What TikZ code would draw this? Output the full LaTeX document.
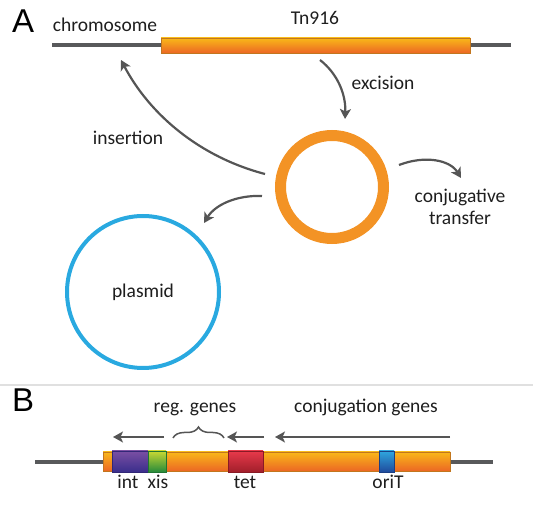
\documentclass[tikz,border=0pt]{standalone}
\usepackage{fontspec}
\setmainfont{Carlito}
\newfontfamily\panelfont{Liberation Sans}
\usetikzlibrary{arrows.meta,decorations.pathreplacing}

\definecolor{chromgray}{HTML}{58595B}
\definecolor{arrgray}{HTML}{555555}
\definecolor{txtgray}{HTML}{1E1E1E}
\definecolor{tnorange}{HTML}{F39325}
\definecolor{tntop}{HTML}{F9B819}
\definecolor{tnbottom}{HTML}{EC6724}
\definecolor{plasblue}{HTML}{29A9E0}
\definecolor{inttop}{HTML}{7A4FA3}
\definecolor{intbot}{HTML}{3A2E8C}
\definecolor{xistop}{HTML}{C8D833}
\definecolor{xisbot}{HTML}{268A3B}
\definecolor{tettop}{HTML}{E8394A}
\definecolor{tetbot}{HTML}{A11F2B}
\definecolor{oritop}{HTML}{2FA6DE}
\definecolor{oribot}{HTML}{1F4A9C}

\tikzset{
  lbl/.style={font=\fontsize{19.5}{23}\selectfont, text=txtgray, anchor=base, inner sep=0pt},
  panel/.style={font=\panelfont\fontsize{33}{36}\selectfont, text=black, anchor=base west, inner sep=0pt},
  arr/.style={draw=arrgray, line width=2.2pt, -{Stealth[length=10pt,width=11pt,inset=2.5pt]}},
  chrom/.style={draw=chromgray, line width=4pt},
  tnbar/.style={draw=tnorange!80!black, line width=0.4pt, top color=tntop, bottom color=tnbottom},
  gene/.style={draw=#1bot!85!black, line width=0.5pt, top color=#1top, bottom color=#1bot}
}

\begin{document}
\begin{tikzpicture}[x=1pt,y=-1pt]
    \useasboundingbox (0,0) rectangle (533,510);

    % Panel A: chromosome with Tn916
    \node[panel] (labA) at (12,33) {A};
    \draw[chrom] (52,45.5) -- (511,45.5);
    \draw[tnbar] (161,38) rectangle (470,53);
    \node[lbl] (chromtxt) at (105,32) {chromosome};
    \node[lbl] (tntxt) at (315,25) {Tn916};

    % Circular intermediate and plasmid
    \node[circle, draw=tnorange, line width=11pt, minimum size=103pt, inner sep=0pt] (ring) at (332,187) {};
    \node[circle, draw=plasblue, line width=4pt, minimum size=152pt, inner sep=0pt] (plasmid) at (143,292) {};
    \node[lbl] (plastxt) at (143,298) {plasmid};

    % Arrows
    \coordinate (exA) at (320,60);
    \coordinate (exB) at (345,119);
    \draw[arr] (exA) .. controls (338,74) and (346,95) .. (exB);
    \node[lbl] (extxt) at (383,90) {excision};

    \coordinate (inA) at (265,174);
    \coordinate (inB) at (121,60);
    \draw[arr] (inA) .. controls (200,157) and (150,115) .. (inB);
    \node[lbl] (intxt) at (128,145) {insertion};

    \coordinate (cjA) at (399,165);
    \coordinate (cjB) at (461,178);
    \draw[arr] (cjA) .. controls (425,155) and (450,160) .. (cjB);
    \node[lbl] (cjtxt) at (460,203) {conjugative};
    \node[lbl] (trtxt) at (460,225) {transfer};

    \coordinate (plA) at (262,196);
    \coordinate (plB) at (204,223);
    \draw[arr] (plA) .. controls (236,195) and (215,205) .. (plB);

    % Separator
    \draw[black!12, line width=1.5pt] (0,385) -- (533,385);

    % Panel B: gene map
    \node[panel] (labB) at (12,412) {B};
    \draw[chrom] (35,462) -- (493,462);
    \draw[tnbar] (103,452) rectangle (450,471);
    \draw[gene=int] (112,451) rectangle (148,472);
    \draw[gene=xis] (148,451) rectangle (166,472);
    \draw[gene=tet] (228,451) rectangle (263,472);
    \draw[gene=ori] (379,451) rectangle (394,472);

    \node[lbl] (inttxt) at (128,489) {int};
    \node[lbl] (xistxt) at (158,489) {xis};
    \node[lbl] (tettxt) at (245,489) {tet};
    \node[lbl] (oritxt) at (388,489) {oriT};

    % Transcription arrows
    \draw[arr, line width=1.6pt] (164,437) -- (113,437);
    \draw[arr, line width=1.6pt] (264,437) -- (227,437);
    \draw[arr, line width=1.6pt] (450,437) -- (275,437);
    \draw[arrgray, line width=1.5pt, decorate, decoration={brace, amplitude=11pt}] (173,438) -- (224,438);
    \node[lbl] (regtxt) at (195,413) {reg. genes};
    \node[lbl] (conjtxt) at (366,413) {conjugation genes};
\end{tikzpicture}
\end{document}
